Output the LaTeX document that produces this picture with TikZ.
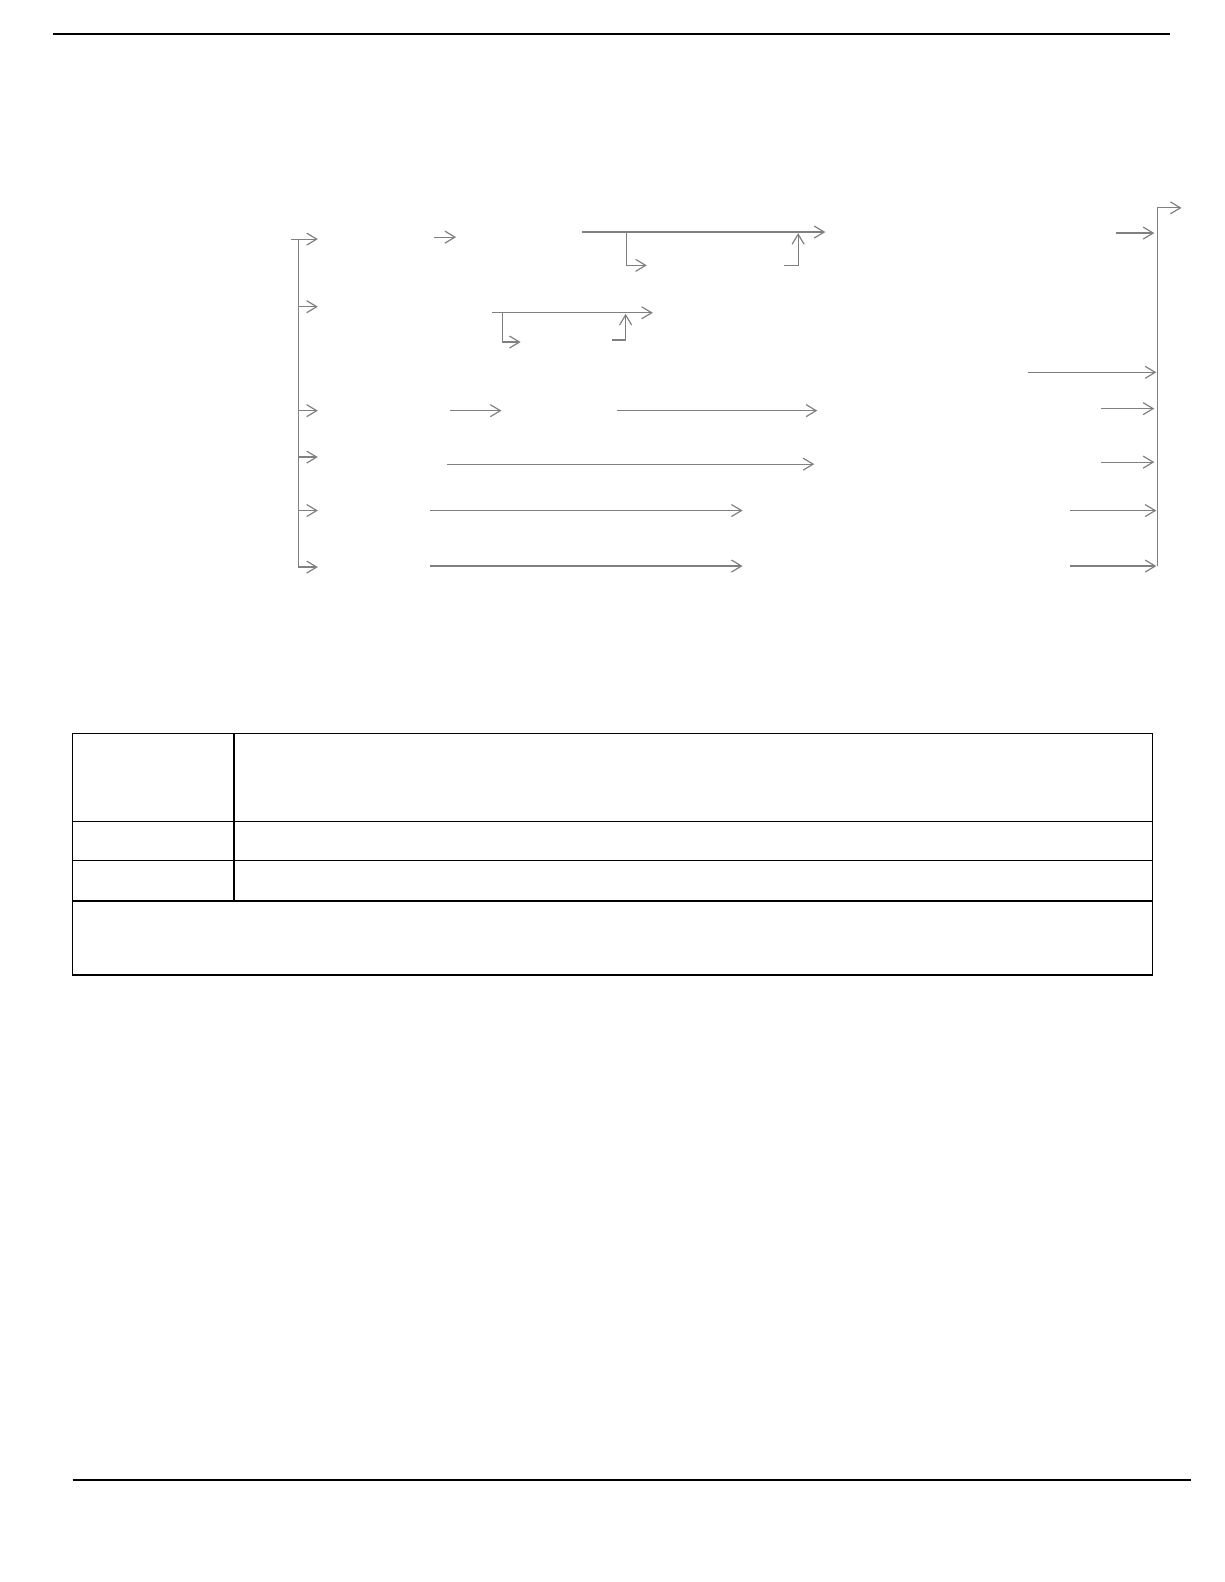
\documentclass[tikz,border=0pt]{standalone}
\usepackage{tikz}
\usetikzlibrary{arrows.meta}

\begin{document}
\begin{tikzpicture}[x=0.5pt,y=-0.5pt,
    flow/.style={gray,line width=0.6pt},
    rule/.style={line width=0.8pt},
    >={Straight Barb[length=5pt,width=6pt]}]
    \useasboundingbox (0,0) rectangle (1224,1582);

    \begin{scope}[scale=1.009]
    % Page rules
    \draw[rule] (53,34) -- (1160,34);
    \draw[rule] (72,1467) -- (1180,1467);

    % Left bracket and its branches
    \draw[flow] (288,237) -- (296,237) -- (296,563);
    \foreach \y in {237,304,407,453,506,562}
        \draw[flow,->] (296,\y) -- (315,\y);

    % Row 1
    \draw[flow,->] (430,235) -- (452,235);
    \draw[flow,->] (577,230) -- (818,230);
    \draw[flow,->] (621,230) -- (621,263) -- (641,263);
    \draw[flow,->] (777,263) -- (791,263) -- (791,231);
    \draw[flow,->] (1106,231) -- (1144,231);

    % Row 2
    \draw[flow,->] (488,310) -- (647,310);
    \draw[flow,->] (498,310) -- (498,339) -- (516,339);
    \draw[flow,->] (607,337) -- (620,337) -- (620,311);
    \draw[flow,->] (1019,369) -- (1146,369);

    % Row 3
    \draw[flow,->] (446,407) -- (497,407);
    \draw[flow,->] (611,407) -- (810,407);
    \draw[flow,->] (1091,405) -- (1144,405);

    % Row 4
    \draw[flow,->] (443,460) -- (807,460);
    \draw[flow,->] (1091,458) -- (1144,458);

    % Rows 5 and 6
    \foreach \y in {506,561} {
        \draw[flow,->] (426,\y) -- (736,\y);
        \draw[flow,->] (1060,\y) -- (1146,\y);
    }

    % Right bracket
    \draw[flow,->] (1147,561) -- (1147,206) -- (1171,206);

    % Table
    \draw[rule] (72,727) rectangle (1142,966);
    \foreach \y in {814,853,893}
        \draw[rule] (72,\y) -- (1142,\y);
    \draw[rule] (232,727) -- (232,893);
    \end{scope}
\end{tikzpicture}
\end{document}
